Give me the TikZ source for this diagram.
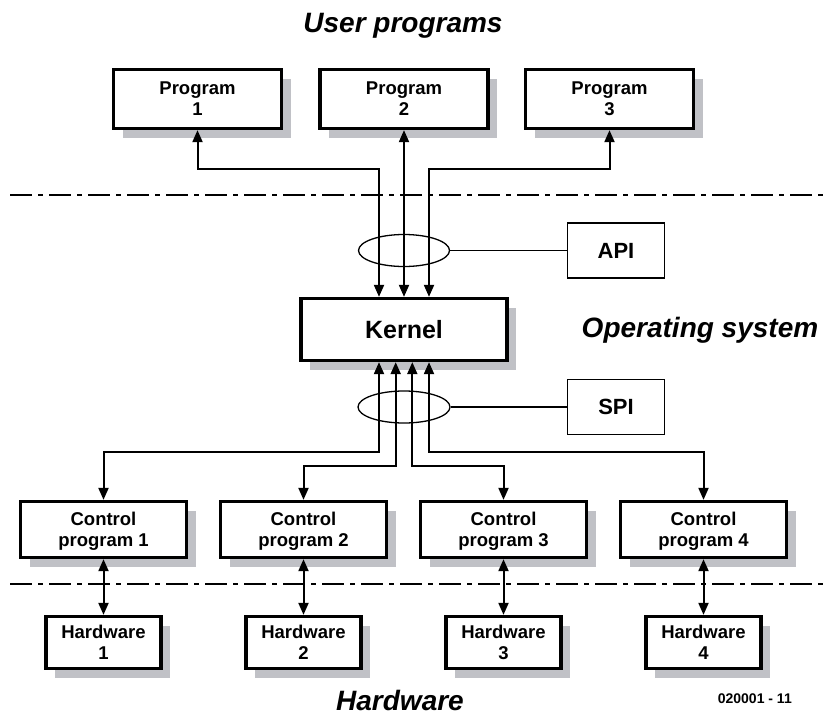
\documentclass[tikz,border=0pt]{standalone}
\usepackage{fontspec}
\setmainfont{Liberation Sans}
\usetikzlibrary{arrows.meta,positioning,shapes.geometric,shadows}
\definecolor{shadowgray}{RGB}{192,193,198}

\begin{document}
\begin{tikzpicture}[x=1pt,y=-1pt,
    box/.style={draw,line width=3.3pt,fill=white,inner sep=0pt,align=center,
      font=\fontsize{18.5}{21}\selectfont\bfseries,
      drop shadow={shadow xshift=9pt,shadow yshift=-9pt,fill=shadowgray,opacity=1}},
    tag/.style={draw,line width=1.3pt,inner sep=0pt,minimum width=97pt,minimum height=55pt,
      font=\fontsize{22}{26}\selectfont\bfseries},
    ring/.style={draw,ellipse,line width=1.3pt,inner sep=0pt,minimum width=91pt,minimum height=32pt},
    conn/.style={line width=2pt,{Triangle[length=12pt,width=10pt]}-{Triangle[length=12pt,width=10pt]}},
    sep/.style={line width=2pt,dash pattern=on 22pt off 6pt on 5pt off 6pt},
    title/.style={inner sep=0pt,font=\fontsize{28}{32}\selectfont\bfseries\itshape}]
  \useasboundingbox (0,0) rectangle (826,715);
  \def\ctrly{529.5}
  \def\hwy{642.5}
  % layers
  \draw[sep] (10,195) -- (826,195);
  \draw[sep] (10,584) -- (826,584);
  \node[title,anchor=base] (tuser) at (403,32) {User programs};
  \node[title,anchor=base] (tos) at (700,337) {Operating system};
  \node[title,anchor=base] (thw) at (400,710) {Hardware};
  \node[anchor=base east,inner sep=0pt,font=\fontsize{14}{16}\selectfont\bfseries] (fig) at (792,703) {020001 - 11};
  % user programs
  \node[box,text depth=-4pt,minimum width=168pt,minimum height=59pt] (prog1) at (197.5,99) {Program\\1};
  \node[box,text depth=-4pt,minimum width=168pt,minimum height=59pt] (prog2) at (404,99) {Program\\2};
  \node[box,text depth=-4pt,minimum width=168pt,minimum height=59pt] (prog3) at (609.5,99) {Program\\3};
  % kernel and interfaces
  \node[box,minimum width=206pt,minimum height=62pt,font=\fontsize{25}{28}\selectfont\bfseries] (kernel) at (404,329.5) {Kernel};
  \node[ring] (apiring) at (404,250.5) {};
  \node[ring,minimum width=92pt] (spiring) at (404,407) {};
  \node[tag] (api) at (616,250.5) {API};
  \node[tag] (spi) at (616,407) {SPI};
  \draw[line width=1.3pt] (apiring.east) -- (api.west);
  \draw[line width=1.3pt] (spiring.east) -- (spi.west);
  % control programs
  \node[box,text depth=-2pt,minimum width=166pt,minimum height=56pt] (ctrl1) at (103.5,\ctrly) {Control\\program 1};
  \node[box,text depth=-2pt,minimum width=166pt,minimum height=56pt] (ctrl2) at (303.5,\ctrly) {Control\\program 2};
  \node[box,text depth=-2pt,minimum width=166pt,minimum height=56pt] (ctrl3) at (503.5,\ctrly) {Control\\program 3};
  \node[box,text depth=-2pt,minimum width=166pt,minimum height=56pt] (ctrl4) at (703.5,\ctrly) {Control\\program 4};
  % hardware
  \node[box,text depth=-4pt,minimum width=115pt,minimum height=52pt] (hw1) at (103.5,\hwy) {Hardware\\1};
  \node[box,text depth=-4pt,minimum width=115pt,minimum height=52pt] (hw2) at (303.5,\hwy) {Hardware\\2};
  \node[box,text depth=-4pt,minimum width=115pt,minimum height=52pt] (hw3) at (503.5,\hwy) {Hardware\\3};
  \node[box,text depth=-4pt,minimum width=115pt,minimum height=52pt] (hw4) at (703.5,\hwy) {Hardware\\4};
  % connections
  \coordinate (ubus) at (0,169);
  \coordinate (lbus1) at (0,452);
  \coordinate (lbus2) at (0,466);
  \draw[conn] ([xshift=-25pt]kernel.north) -- ([xshift=-25pt]kernel.north |- ubus) -| (prog1.south);
  \draw[conn] (kernel.north) -- (prog2.south);
  \draw[conn] ([xshift=25pt]kernel.north) -- ([xshift=25pt]kernel.north |- ubus) -| (prog3.south);
  \draw[conn] ([xshift=-25pt]kernel.south) -- ([xshift=-25pt]kernel.south |- lbus1) -| (ctrl1.north);
  \draw[conn] ([xshift=-8.3pt]kernel.south) -- ([xshift=-8.3pt]kernel.south |- lbus2) -| (ctrl2.north);
  \draw[conn] ([xshift=8.3pt]kernel.south) -- ([xshift=8.3pt]kernel.south |- lbus2) -| (ctrl3.north);
  \draw[conn] ([xshift=25pt]kernel.south) -- ([xshift=25pt]kernel.south |- lbus1) -| (ctrl4.north);
  \draw[conn] (ctrl1.south) -- (hw1.north);
  \draw[conn] (ctrl2.south) -- (hw2.north);
  \draw[conn] (ctrl3.south) -- (hw3.north);
  \draw[conn] (ctrl4.south) -- (hw4.north);
\end{tikzpicture}
\end{document}
